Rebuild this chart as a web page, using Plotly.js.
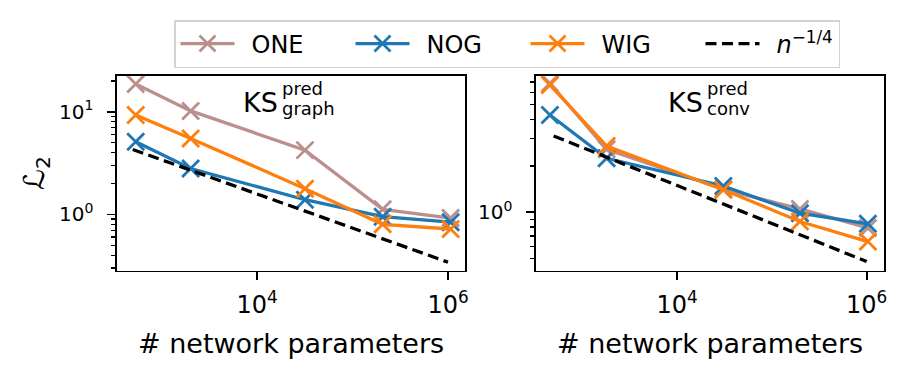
<!DOCTYPE html>
<html>
<head>
<meta charset="utf-8">
<script src="https://cdn.plot.ly/plotly-3.0.1.min.js"></script>
<style>html,body{margin:0;padding:0;background:#fff;}#chart{width:911px;height:378px;}</style>
</head>
<body>
<div id="chart"></div>
<script>
// ---- data ----
const seriesNames = ["ONE", "NOG", "WIG"];
const refName = "<i>n</i><sup>−1/4</sup>";
const seriesColors = ["#bc8f8f", "#1f77b4", "#ff7f0e"];

// left panel: KS graph
const paramsGraph = [537, 2020, 31800, 207000, 1066000];
const oneGraph = [18.7, 10.2, 4.23, 1.12, 0.92];
const nogGraph = [5.1, 2.8, 1.39, 0.95, 0.84];
const wigGraph = [9.3, 5.5, 1.78, 0.80, 0.72];
const refXGraph = [500, 1000000];
const refYGraph = [4.29, 0.342];

// right panel: KS conv
const paramsConv = [457, 1810, 30800, 198000, 1030000];
const oneConv = [6.88, 2.56, 1.41, 1.05, 0.79];
const nogConv = [4.28, 2.24, 1.48, 0.985, 0.84];
const wigConv = [6.71, 2.69, 1.40, 0.87, 0.644];
const refXConv = [500, 1000000];
const refYConv = [3.13, 0.478];

const xTickVals = [1e4, 1e6];
const xTickText = ["10<sup>4</sup>", "10<sup>6</sup>"];
const yTickValsGraph = [1, 10];
const yTickTextGraph = ["10<sup>0</sup>", "10<sup>1</sup>"];
const yTickValsConv = [1];
const yTickTextConv = ["10<sup>0</sup>"];
const yMinorGraph = [0.3,0.4,0.5,0.6,0.7,0.8,0.9,2,3,4,5,6,7,8,9,20];
const yMinorConv = [0.5,0.6,0.7,0.8,0.9,2,3,4,5,6,7];

// ---- chart ----
const W = 911, H = 378;
const px = v => v / W;
const py = v => 1 - v / H;
const FONT = "DejaVu Sans, Liberation Sans, sans-serif";
const LEGPAD = "\u2002";

function seriesTrace(x, y, i, xa, ya, show) {
  return {
    x: x, y: y, name: LEGPAD + seriesNames[i], type: "scatter", mode: "lines+markers",
    xaxis: xa, yaxis: ya, showlegend: show, legendgroup: seriesNames[i],
    legendwidth: 106,
    line: {color: seriesColors[i], width: 3.3},
    marker: {symbol: "x-thin", size: 17, line: {color: seriesColors[i], width: 2.8}}
  };
}
function refTrace(x, y, xa, ya, show) {
  return {
    x: x, y: y, name: LEGPAD + refName, type: "scatter", mode: "lines",
    xaxis: xa, yaxis: ya, showlegend: show, legendgroup: "ref",
    line: {color: "#000", width: 3.3, dash: "11px,5.5px"}
  };
}

const data = [
  seriesTrace(paramsGraph, oneGraph, 0, "x", "y", true),
  seriesTrace(paramsGraph, nogGraph, 1, "x", "y", true),
  seriesTrace(paramsGraph, wigGraph, 2, "x", "y", true),
  refTrace(refXGraph, refYGraph, "x", "y", true),
  seriesTrace(paramsConv, oneConv, 0, "x2", "y2", false),
  seriesTrace(paramsConv, nogConv, 1, "x2", "y2", false),
  seriesTrace(paramsConv, wigConv, 2, "x2", "y2", false),
  refTrace(refXConv, refYConv, "x2", "y2", false)
];

function xAxis(domain, range, anchor) {
  return {
    type: "log", domain: domain, range: range, anchor: anchor,
    showgrid: false, zeroline: false, showline: true, mirror: true,
    linecolor: "#000", linewidth: 1.7,
    ticks: "outside", ticklen: 8, tickwidth: 1.7, tickcolor: "#000",
    tickmode: "array", tickvals: xTickVals, ticktext: xTickText,
    tickfont: {family: FONT, size: 24, color: "#000"},
    ticklabelstandoff: 4
  };
}
function yAxis(domain, range, anchor, tv, tt, minor) {
  return {
    type: "log", domain: domain, range: range, anchor: anchor,
    showgrid: false, zeroline: false, showline: true, mirror: true,
    linecolor: "#000", linewidth: 1.7,
    ticks: "outside", ticklen: 8, tickwidth: 1.7, tickcolor: "#000",
    tickmode: "array", tickvals: tv, ticktext: tt,
    tickfont: {family: FONT, size: 20, color: "#000"},
    ticklabelstandoff: 10,
    minor: {tickmode: "array", tickvals: minor, ticks: "outside", ticklen: 4.5, tickwidth: 1.3, tickcolor: "#000", showgrid: false}
  };
}

const yDom = [py(270.5), py(76)];
const layout = {
  width: W, height: H,
  margin: {l: 0, r: 0, t: 0, b: 0},
  paper_bgcolor: "#fff", plot_bgcolor: "#fff",
  font: {family: FONT, color: "#000"},
  xaxis: xAxis([px(117), px(465)], [2.534, 6.178], "y"),
  yaxis: yAxis(yDom, [-0.547, 1.349], "x", yTickValsGraph, yTickTextGraph, yMinorGraph),
  xaxis2: xAxis([px(536), px(884)], [2.513, 6.183], "y2"),
  yaxis2: yAxis(yDom, [-0.379, 0.885], "x2", yTickValsConv, yTickTextConv, yMinorConv),
  legend: {
    orientation: "h", x: px(174), y: py(20), xanchor: "left", yanchor: "top",
    bgcolor: "#fff", bordercolor: "#d3d3d3", borderwidth: 1.5,
    font: {family: FONT, size: 24, color: "#000"},
    itemwidth: 54,
    traceorder: "normal"
  },
  annotations: [
    {text: "# network parameters", xref: "paper", yref: "paper", x: px(291), y: py(343), xanchor: "center", yanchor: "middle", showarrow: false, font: {family: FONT, size: 27}},
    {text: "# network parameters", xref: "paper", yref: "paper", x: px(710), y: py(343), xanchor: "center", yanchor: "middle", showarrow: false, font: {family: FONT, size: 27}},
    {text: "ℒ<sub>2</sub>", xref: "paper", yref: "paper", x: px(36), y: py(173), xanchor: "center", yanchor: "middle", textangle: -90, showarrow: false, font: {family: FONT, size: 29}},
    {text: "KS", xref: "paper", yref: "paper", x: px(280), y: py(102.5), xanchor: "right", yanchor: "middle", showarrow: false, font: {family: FONT, size: 27}},
    {text: "pred", xref: "paper", yref: "paper", x: px(280), y: py(88), xanchor: "left", yanchor: "middle", showarrow: false, font: {family: FONT, size: 18}},
    {text: "graph", xref: "paper", yref: "paper", x: px(280), y: py(108), xanchor: "left", yanchor: "middle", showarrow: false, font: {family: FONT, size: 18}},
    {text: "KS", xref: "paper", yref: "paper", x: px(705), y: py(102.5), xanchor: "right", yanchor: "middle", showarrow: false, font: {family: FONT, size: 27}},
    {text: "pred", xref: "paper", yref: "paper", x: px(705), y: py(88), xanchor: "left", yanchor: "middle", showarrow: false, font: {family: FONT, size: 18}},
    {text: "conv", xref: "paper", yref: "paper", x: px(705), y: py(108), xanchor: "left", yanchor: "middle", showarrow: false, font: {family: FONT, size: 18}}
  ]
};

Plotly.newPlot("chart", data, layout, {staticPlot: true, displayModeBar: false});
</script>
</body>
</html>
